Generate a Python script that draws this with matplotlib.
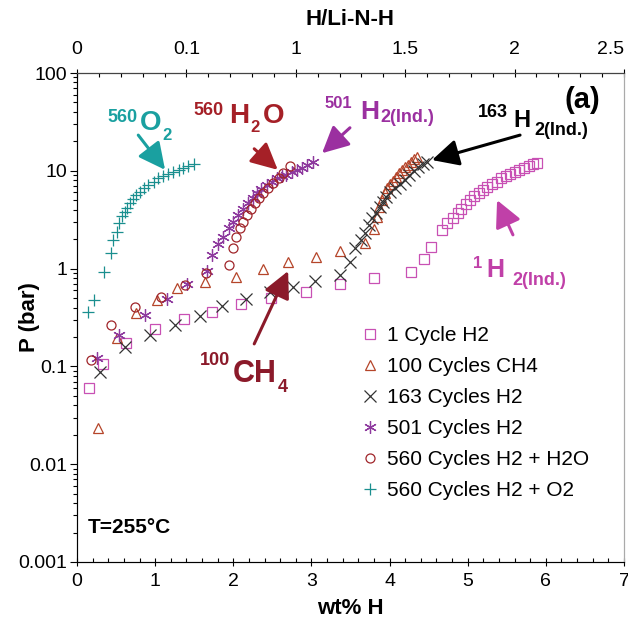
import matplotlib
matplotlib.use("Agg")
import matplotlib.pyplot as plt
from matplotlib.ticker import FixedLocator, MultipleLocator, NullFormatter

plt.rcParams['font.family'] = ['Liberation Sans', 'DejaVu Sans']

# ---- data (wt% H, P in bar) ----
wt_1 = [0.15, 0.33, 0.63, 1.00, 1.37, 1.73, 2.10, 2.48, 2.93, 3.37, 3.80, 4.27, 4.44, 4.53,
        4.67, 4.74, 4.81, 4.87, 4.92, 4.98, 5.03, 5.08, 5.14, 5.20, 5.25, 5.31, 5.37, 5.43,
        5.49, 5.54, 5.60, 5.66, 5.72, 5.78, 5.84, 5.89]
p_1 = [0.060, 0.106, 0.174, 0.24, 0.305, 0.36, 0.43, 0.50, 0.58, 0.69, 0.80, 0.92, 1.26, 1.66,
       2.48, 2.90, 3.27, 3.67, 4.06, 4.54, 5.02, 5.52, 5.89, 6.36, 6.88, 7.33, 7.73, 8.37,
       8.85, 9.27, 9.72, 10.2, 10.6, 11.2, 11.7, 12.1]

wt_100 = [0.265, 0.51, 0.755, 1.03, 1.28, 1.64, 2.03, 2.38, 2.70, 3.06, 3.37, 3.69, 3.80, 3.84,
          3.86, 3.90, 3.94, 3.97, 4.01, 4.05, 4.08, 4.12, 4.16, 4.20, 4.23, 4.27, 4.31, 4.35]
p_100 = [0.0233, 0.194, 0.348, 0.478, 0.63, 0.73, 0.83, 0.98, 1.17, 1.32, 1.52, 1.81, 2.52, 3.40,
         4.22, 5.02, 5.89, 6.62, 7.33, 7.92, 8.71, 9.43, 10.2, 10.9, 11.5, 12.4, 13.1, 13.7]

wt_163 = [0.29, 0.62, 0.94, 1.25, 1.57, 1.86, 2.16, 2.47, 2.76, 3.05, 3.36, 3.50, 3.56, 3.63,
          3.69, 3.74, 3.78, 3.83, 3.88, 3.92, 3.96, 4.01, 4.07, 4.13, 4.20, 4.25, 4.31, 4.37,
          4.43, 4.48]
p_163 = [0.087, 0.157, 0.21, 0.265, 0.33, 0.41, 0.485, 0.57, 0.65, 0.75, 0.86, 1.18, 1.61, 1.96,
         2.30, 2.79, 3.27, 3.73, 4.30, 4.83, 5.43, 6.03, 6.62, 7.33, 8.05, 9.06, 9.95, 10.9,
         11.7, 12.4]

wt_501 = [0.25, 0.54, 0.87, 1.15, 1.41, 1.66, 1.73, 1.81, 1.87, 1.94, 2.00, 2.06, 2.13, 2.19,
          2.25, 2.30, 2.36, 2.43, 2.49, 2.56, 2.62, 2.68, 2.75, 2.81, 2.88, 2.94, 3.02]
p_501 = [0.123, 0.21, 0.333, 0.494, 0.70, 0.95, 1.38, 1.77, 2.12, 2.58, 3.02, 3.53, 4.04, 4.65,
         5.23, 5.89, 6.47, 7.16, 7.74, 8.38, 8.75, 9.06, 9.61, 10.2, 10.7, 11.5, 12.4]

wt_560w = [0.18, 0.44, 0.74, 1.08, 1.38, 1.65, 1.94, 2.00, 2.04, 2.08, 2.13, 2.17, 2.23, 2.28,
           2.33, 2.38, 2.45, 2.51, 2.58, 2.64, 2.72]
p_560w = [0.116, 0.265, 0.405, 0.516, 0.687, 0.90, 1.09, 1.61, 2.09, 2.58, 3.02, 3.53, 4.04, 4.65,
          5.23, 5.89, 6.62, 7.45, 8.38, 9.42, 11.2]

wt_560o = [0.145, 0.22, 0.34, 0.43, 0.46, 0.51, 0.54, 0.58, 0.61, 0.64, 0.68, 0.72, 0.76, 0.81,
           0.86, 0.91, 0.98, 1.04, 1.10, 1.17, 1.23, 1.30, 1.36, 1.42, 1.50]
p_560o = [0.357, 0.472, 0.92, 1.46, 1.96, 2.38, 2.90, 3.45, 3.82, 4.14, 4.66, 5.12, 5.66, 6.11,
          6.62, 7.16, 7.74, 8.38, 8.85, 9.27, 9.65, 10.2, 10.6, 11.2, 11.7]

labels = ["1 Cycle H2", "100 Cycles CH4", "163 Cycles H2", "501 Cycles H2",
          "560 Cycles H2 + H2O", "560 Cycles H2 + O2"]

top_ticks = [0, 0.5, 1, 1.5, 2, 2.5]
top_labels = ["0", "0.1", "1", "1.5", "2", "2.5"]
y_ticks = [0.001, 0.01, 0.1, 1, 10, 100]
y_labels = ["0.001", "0.01", "0.1", "1", "10", "100"]

fig = plt.figure(figsize=(6.28, 6.31), dpi=100)
ax = fig.add_axes([0.1226, 0.1094, 0.8710, 0.7749])

ax.plot(wt_1, p_1, 's', ms=6.5, mfc='none', mec='#C850B4', mew=0.9, ls='none', label=labels[0])
ax.plot(wt_100, p_100, '^', ms=7, mfc='none', mec='#B5452A', mew=0.9, ls='none', label=labels[1])
ax.plot(wt_163, p_163, 'x', ms=8, color='#333333', mew=0.9, ls='none', label=labels[2])
ax.plot(wt_501, p_501, marker=(6, 2, 0), ms=9, color='#8E3A9E', mew=0.9, ls='none', label=labels[3])
ax.plot(wt_560w, p_560w, 'o', ms=6.5, mfc='none', mec='#A0252A', mew=0.9, ls='none', label=labels[4])
ax.plot(wt_560o, p_560o, '+', ms=9, color='#1A8F8F', mew=0.9, ls='none', label=labels[5])

ax.set_yscale('log')
ax.set_xlim(0, 7)
ax.set_ylim(0.001, 100)
ax.set_yticks(y_ticks)
ax.set_yticklabels(y_labels)
ax.yaxis.set_minor_formatter(NullFormatter())
ax.xaxis.set_major_locator(MultipleLocator(1))
ax.xaxis.set_minor_locator(MultipleLocator(0.2))

for lab in ax.get_xticklabels() + ax.get_yticklabels():
    lab.set_fontsize(14)

ax.tick_params(axis='y', which='major', direction='out', length=5, width=0.8, pad=2)
ax.tick_params(axis='y', which='minor', direction='out', length=3, width=0.8)
ax.tick_params(axis='x', which='major', direction='inout', length=6, width=0.8, pad=5)
ax.tick_params(axis='x', which='minor', direction='in', length=3, width=0.8)
ax.tick_params(axis='y', which='both', right=False)
ax.spines['right'].set_color('#aaaaaa')
ax.spines['left'].set_color('#444444')
ax.spines['bottom'].set_color('#444444')

ax.set_xlabel('wt% H', fontsize=16, fontweight='bold', labelpad=6)
ax.set_ylabel('P (bar)', fontsize=16, fontweight='bold')
ax.yaxis.set_label_coords(-0.068, 0.5)

ax2 = ax.twiny()
ax2.set_xlim(0, 2.5)
ax2.xaxis.set_major_locator(FixedLocator(top_ticks))
ax2.set_xticklabels(top_labels)
ax2.xaxis.set_minor_locator(MultipleLocator(0.1))
for lab in ax2.get_xticklabels():
    lab.set_fontsize(14)
ax2.get_xticklabels()[-1].set_horizontalalignment('right')
ax2.tick_params(axis='x', which='major', direction='inout', length=6, width=0.8, pad=8)
ax2.tick_params(axis='x', which='minor', direction='in', length=3, width=0.8)
ax2.spines['right'].set_color('#aaaaaa')
ax2.spines['top'].set_color('#444444')
ax2.set_xlabel('H/Li-N-H', fontsize=16, fontweight='bold', labelpad=11)

ax.legend(loc='upper left', bbox_to_anchor=(0.505, 0.50), frameon=False, fontsize=15,
          handlelength=0.8, handletextpad=0.4, labelspacing=0.58, borderaxespad=0)


# annotations: pieces of (text, x, y, size) in axes fraction, baseline anchored
def note(pieces, color, tail, tip):
    for txt, x, y, size in pieces:
        ax.text(x, y, txt, transform=ax.transAxes, color=color, fontsize=size,
                fontweight='bold', ha='left', va='baseline')
    ax.annotate('', xy=tip, xytext=tail, xycoords='axes fraction', textcoords='axes fraction',
                arrowprops=dict(arrowstyle='-|>,head_length=0.9,head_width=0.45', lw=2.2,
                                color=color, mutation_scale=18, shrinkA=0, shrinkB=0))


note([('560', 0.0548, 0.8998, 13), ('O', 0.1152, 0.8834, 20), ('2', 0.1560, 0.8630, 12)],
     '#1AA0A0', (0.112, 0.873), (0.161, 0.802))
note([('560', 0.2121, 0.9141, 13), ('H', 0.2779, 0.8978, 20), ('2', 0.3163, 0.8793, 12)],
     '#A52027', (0.324, 0.845), (0.367, 0.802))
ax.text(0.3400, 0.8978, 'O', transform=ax.transAxes, color='#A52027', fontsize=20,
        fontweight='bold', ha='left', va='baseline')
note([('501', 0.4534, 0.9284, 12), ('H', 0.5174, 0.9059, 19), ('2(Ind.)', 0.5539, 0.8998, 13)],
     '#9B30A0', (0.499, 0.888), (0.448, 0.836))
note([('163', 0.7331, 0.9100, 13), ('H', 0.7971, 0.8896, 17), ('2(Ind.)', 0.8355, 0.8732, 13)],
     '#000000', (0.810, 0.873), (0.649, 0.822))
note([('1', 0.7240, 0.6012, 12), ('H', 0.7477, 0.5828, 18), ('2(Ind.)', 0.7952, 0.5665, 13)],
     '#C040A8', (0.797, 0.669), (0.768, 0.740))
note([('100', 0.2249, 0.4029, 13), ('CH', 0.2852, 0.3681, 22), ('4', 0.3675, 0.3476, 13)],
     '#8B1A2A', (0.324, 0.446), (0.386, 0.595))

ax.text(0.892, 0.928, '(a)', transform=ax.transAxes, fontsize=21, fontweight='bold',
        ha='left', va='baseline')
ax.text(0.020, 0.059, 'T=255°C', transform=ax.transAxes, fontsize=15, fontweight='bold',
        ha='left', va='baseline')

fig.savefig('out.png', dpi=100)
